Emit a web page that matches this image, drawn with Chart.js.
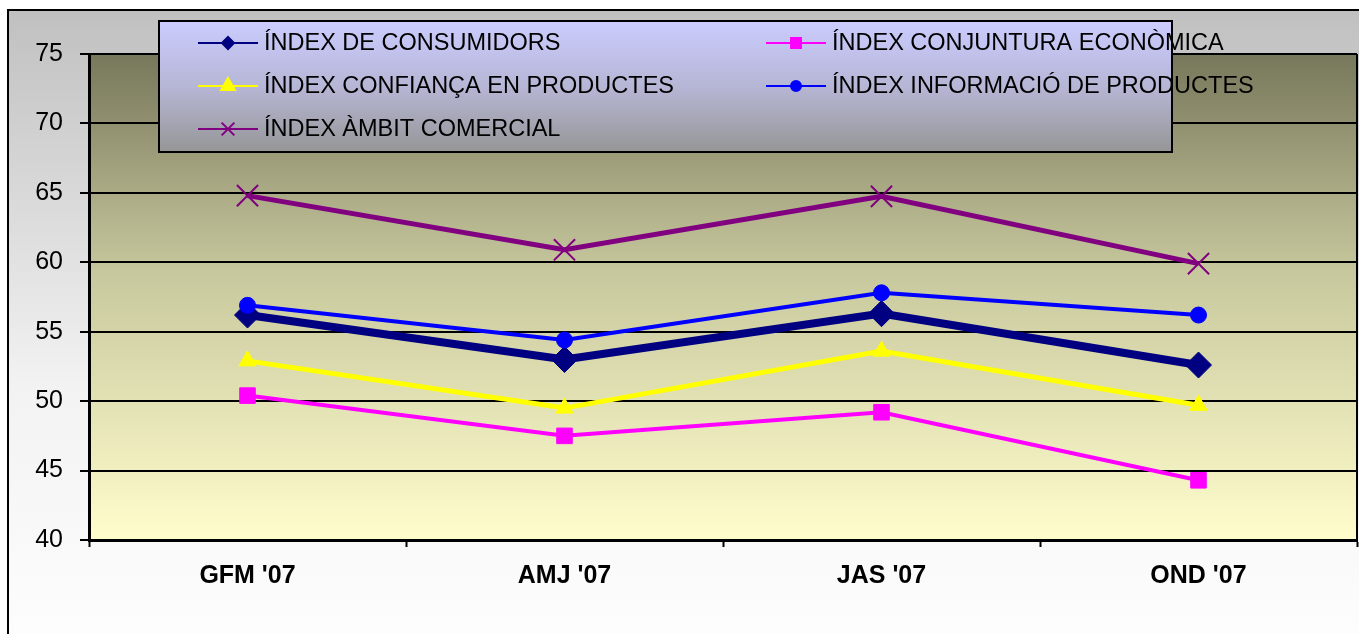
<!DOCTYPE html>
<html>
<head>
<meta charset="utf-8">
<script src="https://cdn.jsdelivr.net/npm/chart.js@4"></script>
<style>
  html, body { margin: 0; padding: 0; background: #fff; overflow: hidden; }
  canvas { display: block; }
</style>
</head>
<body>
<canvas id="indexChart" width="1359" height="634"></canvas>
<script>
// Dades del gràfic
const trimestres = ["GFM '07", "AMJ '07", "JAS '07", "OND '07"];
const consumidors = [56.2, 53.0, 56.3, 52.6];
const conjuntura = [50.4, 47.5, 49.2, 44.3];
const confianca = [52.9, 49.5, 53.6, 49.7];
const informacio = [56.9, 54.4, 57.8, 56.2];
const ambit = [64.8, 60.9, 64.75, 59.9];
const yMin = 40, yMax = 75, yStep = 5;

const FONT = '"Liberation Sans", Arial, sans-serif';

// Fons: marc gris i àrea del gràfic amb degradat
const backgrounds = {
    id: 'backgrounds',
    beforeDraw(chart) {
        const c = chart.ctx;
        const a = chart.chartArea;
        c.save();
        c.fillStyle = '#fff';
        c.fillRect(0, 0, chart.width, chart.height);
        let g = c.createLinearGradient(0, 10, 0, chart.height);
        g.addColorStop(0, '#c0c0c0');
        g.addColorStop(0.6, '#f2f2f2');
        g.addColorStop(1, '#fdfdfd');
        c.fillStyle = g;
        c.fillRect(8, 10, chart.width - 8, chart.height - 10);
        c.strokeStyle = '#000';
        c.lineWidth = 2;
        c.beginPath();
        c.moveTo(8, chart.height);
        c.lineTo(8, 10);
        c.lineTo(chart.width, 10);
        c.stroke();

        g = c.createLinearGradient(0, a.top, 0, a.bottom);
        g.addColorStop(0, '#77775b');
        g.addColorStop(0.45, '#c8c89e');
        g.addColorStop(1, '#fffdcc');
        c.fillStyle = g;
        c.fillRect(a.left, a.top, a.right - a.left, a.bottom - a.top);
        c.restore();
    },
    beforeDatasetsDraw(chart) {
        const c = chart.ctx;
        const a = chart.chartArea;
        c.save();
        c.strokeStyle = '#000';
        c.lineWidth = 2;
        c.beginPath();
        c.moveTo(a.right, a.top);
        c.lineTo(a.right, a.bottom);
        c.stroke();
        c.restore();
    }
};

// Llegenda en dues columnes, dins d'un requadre
const boxLegend = {
    id: 'boxLegend',
    afterDraw(chart) {
        const c = chart.ctx;
        const x0 = 159, y0 = 21, w = 1013, h = 131;
        c.save();
        const g = c.createLinearGradient(0, y0, 0, y0 + h);
        g.addColorStop(0, '#ccccff');
        g.addColorStop(0.5, '#b6b6d6');
        g.addColorStop(1, '#969696');
        c.fillStyle = g;
        c.fillRect(x0, y0, w, h);
        c.strokeStyle = '#000';
        c.lineWidth = 2;
        c.strokeRect(x0, y0, w, h);

        const cols = [198, 766];
        const rows = [43, 86, 129];
        chart.data.datasets.forEach((ds, i) => {
            const lx = cols[i % 2];
            const ly = rows[Math.floor(i / 2)];
            c.strokeStyle = ds.borderColor;
            c.fillStyle = ds.borderColor;
            c.lineWidth = 2;
            c.beginPath();
            c.moveTo(lx, ly);
            c.lineTo(lx + 60, ly);
            c.stroke();
            Chart.helpers.drawPoint(c, {
                pointStyle: ds.pointStyle,
                radius: ds.legendRadius,
                borderWidth: ds.pointStyle === 'crossRot' ? 2 : 1,
                rotation: 0
            }, lx + 30, ly);
            c.fillStyle = '#000';
            c.font = '23.5px ' + FONT;
            c.textBaseline = 'middle';
            c.fillText(ds.label, lx + 66, ly + 1);
        });
        c.restore();
    }
};

function serie(label, data, color, width, style, radius, legendRadius, order) {
    return {
        label: label,
        data: data,
        borderColor: color,
        backgroundColor: color,
        borderWidth: width,
        pointStyle: style,
        pointRadius: radius,
        pointHoverRadius: radius,
        pointBackgroundColor: color,
        pointBorderColor: color,
        pointBorderWidth: style === 'crossRot' ? 2 : 1,
        legendRadius: legendRadius,
        tension: 0,
        clip: false,
        order: order
    };
}

new Chart(document.getElementById('indexChart'), {
    type: 'line',
    data: {
        labels: trimestres,
        datasets: [
            serie('ÍNDEX DE CONSUMIDORS', consumidors, '#000080', 8, 'rectRot', 13, 6, 5),
            serie('ÍNDEX CONJUNTURA ECONÒMICA', conjuntura, '#ff00ff', 4, 'rect', 11, 7, 4),
            serie('ÍNDEX CONFIANÇA EN PRODUCTES', confianca, '#ffff00', 5, 'triangle', 10, 8, 3),
            serie('ÍNDEX INFORMACIÓ DE PRODUCTES', informacio, '#0000ff', 4, 'circle', 8, 5, 2),
            serie('ÍNDEX ÀMBIT COMERCIAL', ambit, '#800080', 5, 'crossRot', 15, 9, 1)
        ]
    },
    options: {
        responsive: false,
        animation: false,
        layout: { autoPadding: false, padding: { top: 54, right: 2, bottom: 0, left: 0 } },
        plugins: {
            legend: { display: false },
            tooltip: { enabled: false }
        },
        scales: {
            x: {
                offset: true,
                grid: {
                    offset: true,
                    drawOnChartArea: false,
                    drawTicks: true,
                    tickLength: 7,
                    tickColor: '#000',
                    tickWidth: 2
                },
                border: { color: '#000', width: 3 },
                ticks: {
                    color: '#000',
                    padding: 14,
                    maxRotation: 0,
                    font: { family: FONT, size: 25, weight: 'bold' }
                },
                afterFit(scale) {
                    scale.height = 94;
                }
            },
            y: {
                min: yMin,
                max: yMax,
                grid: {
                    color: '#000',
                    lineWidth: 2,
                    drawTicks: true,
                    tickLength: 9,
                    tickColor: '#000',
                    tickWidth: 2
                },
                border: { color: '#000', width: 3 },
                ticks: {
                    stepSize: yStep,
                    color: '#000',
                    padding: 17,
                    font: { family: FONT, size: 25 }
                },
                afterFit(scale) { scale.width = 89; }
            }
        }
    },
    plugins: [backgrounds, boxLegend]
});
</script>
</body>
</html>
